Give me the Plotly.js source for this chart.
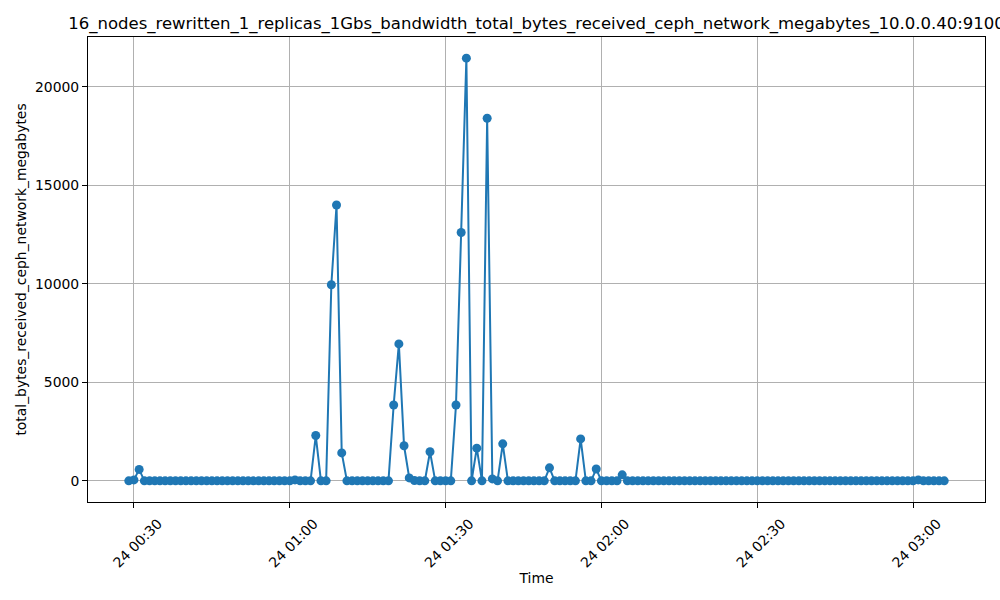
<!DOCTYPE html>
<html>
<head>
<meta charset="utf-8">
<script src="https://cdn.plot.ly/plotly-3.0.1.min.js"></script>
<style>html,body{margin:0;padding:0;background:#fff;}#chart{width:1000px;height:600px;}</style>
</head>
<body>
<div id="chart"></div>
<script>
// Start time of the series and one sample per minute
const startTime = '2023-06-24T00:29:00';
// Values (megabytes), one per minute from 00:29 to 03:06
const values = [
  0, 50, 580, 0, 0, 0, 0, 0, 0, 0,          // 00:29 - 00:38
  0, 0, 0, 0, 0, 0, 0, 0, 0, 0,             // 00:39 - 00:48
  0, 0, 0, 0, 0, 0, 0, 0, 0, 0,             // 00:49 - 00:58
  0, 0, 50, 0, 0, 0, 2300, 0, 0, 9950,      // 00:59 - 01:08
  14000, 1420, 0, 0, 0, 0, 0, 0, 0, 0,      // 01:09 - 01:18
  0, 3850, 6950, 1780, 150, 20, 0, 0, 1480, 0, // 01:19 - 01:28
  0, 0, 0, 3850, 12600, 21450, 0, 1660, 0, 18400, // 01:29 - 01:38
  100, 0, 1880, 0, 0, 0, 0, 0, 0, 0,        // 01:39 - 01:48
  0, 660, 0, 0, 0, 0, 0, 2130, 0, 0,        // 01:49 - 01:58
  600, 0, 0, 0, 0, 305, 0, 0, 0, 0,         // 01:59 - 02:08
  0, 0, 0, 0, 0, 0, 0, 0, 0, 0,             // 02:09 - 02:18
  0, 0, 0, 0, 0, 0, 0, 0, 0, 0,             // 02:19 - 02:28
  0, 0, 0, 0, 0, 0, 0, 0, 0, 0,             // 02:29 - 02:38
  0, 0, 0, 0, 0, 0, 0, 0, 0, 0,             // 02:39 - 02:48
  0, 0, 0, 0, 0, 0, 0, 0, 0, 0,             // 02:49 - 02:58
  0, 0, 50, 0, 0, 0, 0, 0                   // 02:59 - 03:06
];
const tickValues = ['2023-06-24T00:30:00','2023-06-24T01:00:00','2023-06-24T01:30:00','2023-06-24T02:00:00','2023-06-24T02:30:00','2023-06-24T03:00:00'];
const tickLabels = ['24 00:30','24 01:00','24 01:30','24 02:00','24 02:30','24 03:00'];
const yTicks = [0, 5000, 10000, 15000, 20000];
const titleText = '16_nodes_rewritten_1_replicas_1Gbs_bandwidth_total_bytes_received_ceph_network_megabytes_10.0.0.40:9100';

const t0 = new Date(startTime + 'Z').getTime();
function fmt(ms){ return new Date(ms).toISOString().replace('T',' ').slice(0,19); }
const times = values.map((v,i)=> fmt(t0 + i*60000));

// matplotlib-like 5% margins
const xStart = t0, xEnd = t0 + (values.length-1)*60000;
const xPad = (xEnd - xStart)*0.05;
const yMin = Math.min(...values), yMax = Math.max(...values);
const yPad = (yMax - yMin)*0.05;

const font = 'DejaVu Sans';
const tickFont = {family: font, size: 13.9, color: '#000'};
Plotly.newPlot('chart', [{
  x: times, y: values, type: 'scatter', mode: 'lines+markers',
  line: {color: '#1f77b4', width: 2},
  marker: {color: '#1f77b4', size: 9}
}], {
  width: 1000, height: 600,
  margin: {l: 88, r: 15, t: 37, b: 98},
  paper_bgcolor: '#fff', plot_bgcolor: '#fff',
  font: {family: font, color: '#000', size: 13.9},
  showlegend: false,
  title: {text: titleText, font: {family: font, size: 16.5, color: '#000'}, x: 0.5365, xanchor: 'center', y: 0.962, yanchor: 'middle'},
  xaxis: {
    type: 'date',
    range: [fmt(xStart - xPad), fmt(xEnd + xPad)],
    tickmode: 'array', tickvals: tickValues, ticktext: tickLabels,
    tickangle: -45, ticklabelshift: 24, ticklabelstandoff: 2,
    showgrid: true, gridcolor: '#b0b0b0', gridwidth: 1,
    showline: true, linecolor: '#000', linewidth: 1, mirror: true,
    ticks: 'outside', ticklen: 5, tickcolor: '#000', tickwidth: 1,
    tickfont: tickFont,
    zeroline: false,
    title: {text: 'Time', font: {family: font, size: 13.9, color: '#000'}, standoff: 3}
  },
  yaxis: {
    range: [yMin - yPad, yMax + yPad],
    tickmode: 'array', tickvals: yTicks, ticktext: yTicks.map(String),
    showgrid: true, gridcolor: '#b0b0b0', gridwidth: 1,
    showline: true, linecolor: '#000', linewidth: 1, mirror: true,
    ticks: 'outside', ticklen: 5, tickcolor: '#000', tickwidth: 1,
    tickfont: tickFont,
    zeroline: false,
    title: {text: 'total_bytes_received_ceph_network_megabytes', font: {family: font, size: 13.9, color: '#000'}, standoff: 5}
  }
}, {displayModeBar: false, staticPlot: true});
</script>
</body>
</html>
